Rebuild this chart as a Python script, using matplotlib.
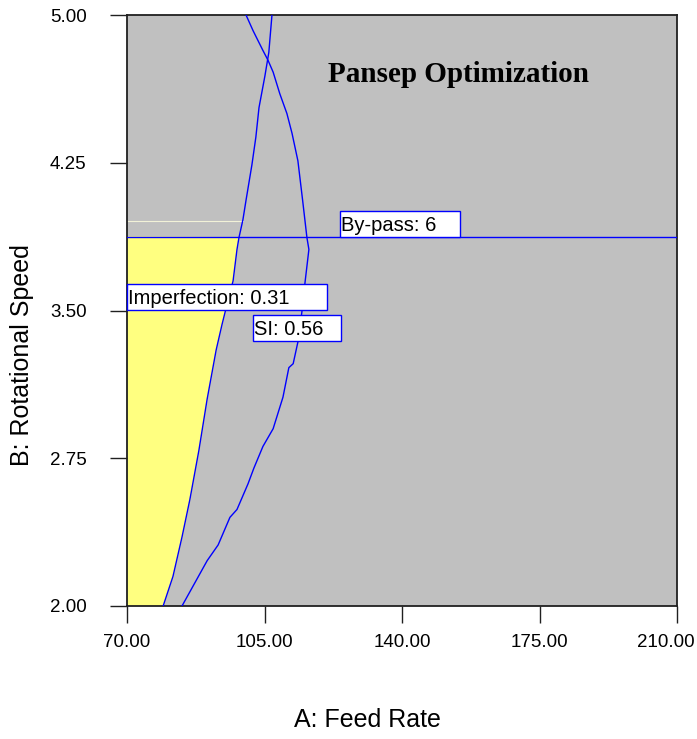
import matplotlib.pyplot as plt
from matplotlib.patches import Rectangle
from matplotlib.transforms import ScaledTranslation

# Dữ liệu đường đồng mức
imp_x = [79.2, 81.7, 84.0, 86.0, 88.3, 90.4, 92.7, 94.2, 95.7, 97.0, 98.0, 98.5,
         99.5, 100.3, 101.8, 102.8, 103.6, 105.1, 106.1, 106.9]
imp_y = [2.00, 2.15, 2.35, 2.54, 2.79, 3.05, 3.30, 3.43, 3.55, 3.65, 3.81, 3.87,
         3.96, 4.06, 4.24, 4.38, 4.53, 4.69, 4.81, 5.00]

si_x = [84.0, 90.4, 93.2, 96.2, 98.0, 100.8, 102.3, 104.6, 107.2, 109.7, 111.2,
        112.3, 113.5, 114.5, 115.3, 116.3, 115.8, 114.7, 113.5, 112.0, 110.7,
        108.9, 107.2, 105.9, 104.6, 103.6, 102.1, 100.3]
si_y = [2.00, 2.23, 2.31, 2.45, 2.49, 2.62, 2.70, 2.81, 2.90, 3.06, 3.21,
        3.23, 3.34, 3.49, 3.64, 3.81, 3.87, 4.06, 4.26, 4.40, 4.50,
        4.60, 4.71, 4.77, 4.82, 4.86, 4.92, 5.00]

bypass_y = 3.873
faint_y = 3.954
faint_x_end = 99.5

x_ticks = [70, 105, 140, 175, 210]
y_ticks = [2.00, 2.75, 3.50, 4.25, 5.00]

plt.rcParams['font.family'] = ['Liberation Sans', 'DejaVu Sans']

fig = plt.figure(figsize=(6.97, 7.39), dpi=100)
ax = fig.add_axes([127/697, 1 - 606/739, 550/697, 591/739])
ax.set_facecolor('#c0c0c0')
ax.set_xlim(70, 210)
ax.set_ylim(2, 5)

# Vùng khả thi (màu vàng)
poly_x = [70] + [x for x, y in zip(imp_x, imp_y) if y <= bypass_y] + [70]
poly_y = [2.0] + [y for y in imp_y if y <= bypass_y] + [bypass_y]
ax.fill(poly_x, poly_y, color='#ffff80', zorder=1)

ax.plot([70, faint_x_end], [faint_y, faint_y], color='#f2f2d8', lw=0.8, zorder=2)
ax.plot(imp_x, imp_y, color='#0000ff', lw=1.0, zorder=3)
ax.plot(si_x, si_y, color='#0000ff', lw=1.0, zorder=3)
ax.axhline(bypass_y, color='#0000ff', lw=1.0, zorder=3)

# Nhãn các đường
labels = [("By-pass: 6", 0.3873, 0.6055, 0.6244, 0.6684),
          ("Imperfection: 0.31", 0.0, 0.3636, 0.5008, 0.5448),
          ("SI: 0.56", 0.2291, 0.3891, 0.4484, 0.4924)]
for txt, x0, x1, y0, y1 in labels:
    ax.add_patch(Rectangle((x0, y0), x1 - x0, y1 - y0, transform=ax.transAxes,
                           facecolor='white', edgecolor='#0000ff', lw=1.0,
                           zorder=5, clip_on=False))
    ax.text(x0 + 0.001, (y0 + y1) / 2 - 0.002, txt, transform=ax.transAxes,
            fontsize=14.5, ha='left', va='center', zorder=6)

ax.text(0.602, 0.9, "Pansep Optimization", transform=ax.transAxes,
        fontsize=21, fontweight='bold', family='Liberation Serif',
        ha='center', va='center')

ax.set_xticks(x_ticks)
ax.set_xticklabels([f"{v:.2f}" for v in x_ticks])
ax.set_yticks(y_ticks)
ax.set_yticklabels([f"{v:.2f}" for v in y_ticks])
ax.tick_params(axis='both', direction='out', length=12, width=1.0,
               labelsize=13.5, color='#202020')
ax.tick_params(axis='y', pad=17)
ax.tick_params(axis='x', pad=8)
# nhãn cuối bị đẩy vào trong cho vừa khung
last = ax.get_xticklabels()[-1]
last.set_transform(last.get_transform() + ScaledTranslation(-11/100, 0, fig.dpi_scale_trans))
for s in ax.spines.values():
    s.set_color('#202020')
    s.set_linewidth(1.3)

fig.text(367/697, 1 - 720/739, "A: Feed Rate", fontsize=18,
         ha='center', va='center')
fig.text(22/697, 1 - 355/739, "B: Rotational Speed", fontsize=18,
         ha='center', va='center', rotation=90)

fig.savefig('out.png', dpi=100)
